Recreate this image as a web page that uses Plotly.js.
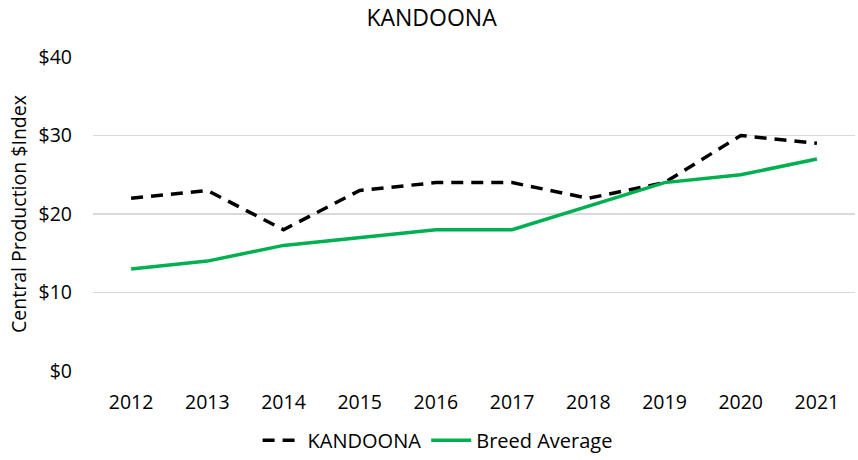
<!DOCTYPE html>
<html>
<head>
<meta charset="utf-8">
<script src="https://cdn.plot.ly/plotly-3.0.1.min.js"></script>
<style>html,body{margin:0;padding:0;background:#fff;}#chart{width:858px;height:460px;}</style>
</head>
<body>
<div id="chart"></div>
<script>
const years = ['2012','2013','2014','2015','2016','2017','2018','2019','2020','2021'];
const kandoona = [22, 23, 18, 23, 24, 24, 22, 24, 30, 29];
const breedAverage = [13, 14, 16, 17, 18, 18, 21, 24, 25, 27];
const yTickVals = [0, 10, 20, 30, 40];
const yTickText = ['$0', '$10', '$20', '$30', '$40'];

const FONT = 'Open Sans, Noto Sans, sans-serif';

const traces = [
  {
    x: years, y: kandoona, name: 'KANDOONA', type: 'scatter', mode: 'lines',
    line: {color: '#000000', width: 3.5, dash: '12px,8px'}
  },
  {
    x: years, y: breedAverage, name: 'Breed Average', type: 'scatter', mode: 'lines',
    line: {color: '#00b050', width: 3.5}
  }
];

const layout = {
  width: 858, height: 460,
  paper_bgcolor: '#ffffff', plot_bgcolor: '#ffffff',
  font: {family: FONT, size: 19, color: '#000000'},
  margin: {l: 93, r: 3, t: 57, b: 89},
  title: {text: 'KANDOONA', font: {family: FONT, size: 23, color: '#000000'},
          xref: 'container', x: 0.503, xanchor: 'center', yref: 'container', y: 0.962, yanchor: 'middle'},
  xaxis: {
    type: 'category', range: [-0.5, 9.5], showgrid: false, zeroline: false, showline: false,
    ticks: '', ticklabelstandoff: 17, tickfont: {family: FONT, size: 19.5, color: '#000000'}
  },
  yaxis: {
    range: [0, 40], tickvals: yTickVals, ticktext: yTickText,
    showgrid: true, gridcolor: '#d9d9d9', gridwidth: 1.3, zeroline: false, showline: false,
    ticks: '', ticklabelstandoff: 20, tickfont: {family: FONT, size: 19.5, color: '#000000'},
    title: {text: 'Central Production $Index', font: {family: FONT, size: 19.5, color: '#000000'}, standoff: 6}
  },
  showlegend: true,
  legend: {
    orientation: 'h', xref: 'container', yref: 'container', x: 0.51, xanchor: 'center',
    y: 0.043, yanchor: 'middle', font: {family: FONT, size: 20, color: '#000000'},
    itemwidth: 40, tracegroupgap: 0
  }
};

Plotly.newPlot('chart', traces, layout, {displayModeBar: false, staticPlot: true});
</script>
</body>
</html>
